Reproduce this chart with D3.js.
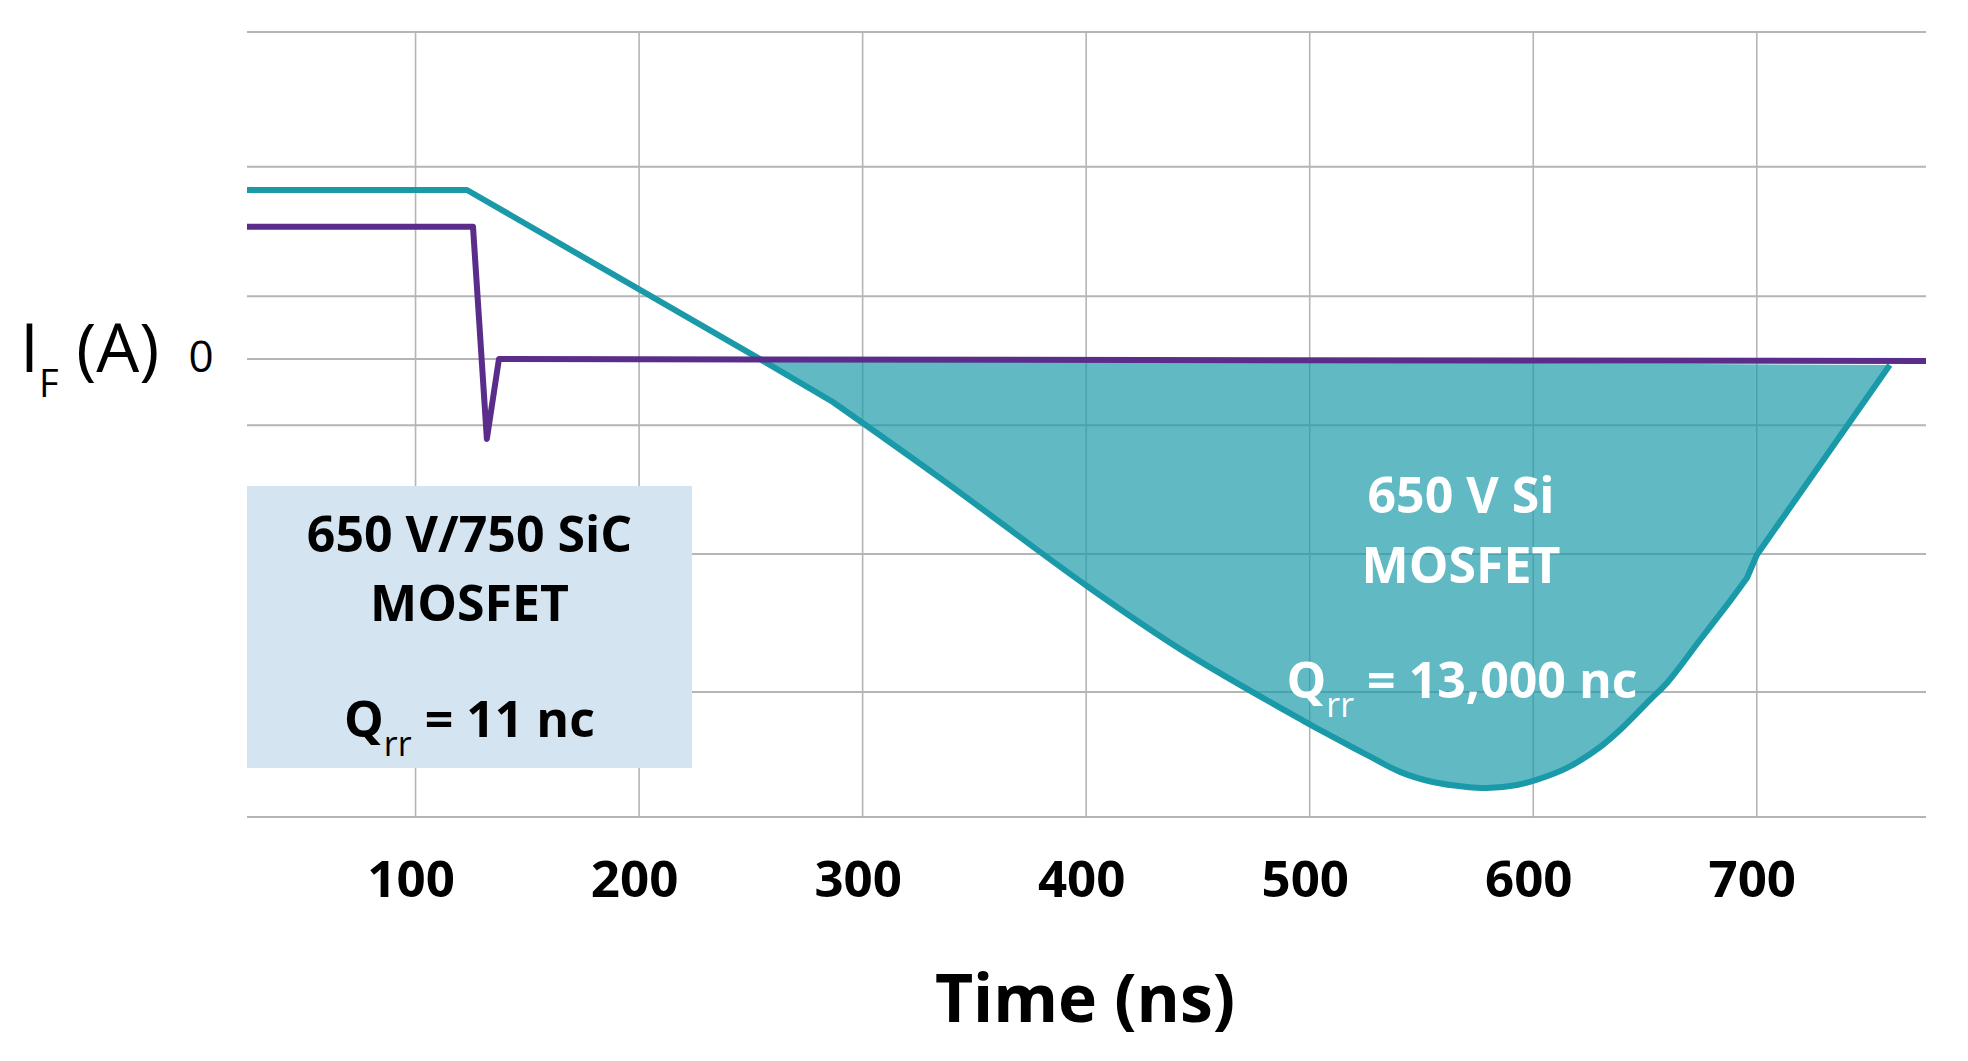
<!DOCTYPE html>
<html>
<head>
<meta charset="utf-8">
<script src="https://cdn.jsdelivr.net/npm/d3@7"></script>
<style>
  html, body { margin: 0; padding: 0; background: #ffffff; }
  svg { display: block; }
  text { font-family: "Open Sans", "Noto Sans", sans-serif; }
</style>
</head>
<body>
<svg id="chart" width="1968" height="1061"></svg>
<script>
// ---- data ----
const xTicks = [100, 200, 300, 400, 500, 600, 700];
const xDomain = [24.6, 775.7];
const yDomain = [-7, 5];
const yGrid = [5, 2.94, 0.96, 0, -1.01, -2.98, -5.09, -7];
const yTickLabels = ["0"];

// Si MOSFET (teal) current, time in ns, current in arbitrary units
const siT = [24.6, 123.0, 254.1, 286.7, 335.9, 400.8, 444.2, 497.2, 510.4, 525.6, 540.4, 555.1, 570.3, 579.3, 592.7, 601.7, 615.1, 629.9, 638.8, 652.2, 660.2, 674.6, 688.0, 695.6, 700.0, 759.5];
const siV = [2.585, 2.585, 0, -0.656, -1.85, -3.48, -4.48, -5.53, -5.776, -6.05, -6.31, -6.465, -6.54, -6.556, -6.51, -6.43, -6.25, -5.93, -5.67, -5.21, -4.935, -4.294, -3.70, -3.346, -2.995, -0.09];

// SiC MOSFET (purple) current
const sicT = [24.6, 125.7, 131.9, 137.3, 775.7];
const sicV = [2.024, 2.024, -1.22, 0, -0.03];

const xLabel = "Time (ns)";
const siLines = ["650 V Si", "MOSFET"];
const siQ = "13,000 nc";
const sicLines = ["650 V/750 SiC", "MOSFET"];
const sicQ = "11 nc";

// ---- scales ----
const svg = d3.select("#chart");
const x = d3.scaleLinear().domain(xDomain).range([247, 1926]);
const y = d3.scaleLinear().domain(yDomain).range([817, 32]);

const gridColor = "#b5b5b5";
const teal = "#1a9aa8";
const purple = "#5a2d8b";

// grid
const g = svg.append("g");
g.selectAll("line.h").data(yGrid).join("line")
  .attr("class", "h")
  .attr("x1", x(xDomain[0])).attr("x2", x(xDomain[1]))
  .attr("y1", d => y(d)).attr("y2", d => y(d))
  .attr("stroke", gridColor).attr("stroke-width", 2);
g.selectAll("line.v").data(xTicks).join("line")
  .attr("class", "v")
  .attr("x1", d => x(d)).attr("x2", d => x(d))
  .attr("y1", y(yDomain[1])).attr("y2", y(yDomain[0]))
  .attr("stroke", gridColor).attr("stroke-width", 1.6);

// x tick labels via axis
const xAxis = d3.axisBottom(x).tickValues(xTicks).tickSize(0).tickPadding(0);
const ax = svg.append("g").attr("transform", `translate(-5, 859)`).call(xAxis);
ax.select(".domain").remove();
ax.selectAll("text")
  .attr("dy", null).attr("y", 38)
  .attr("fill", "#000").attr("font-size", 51).attr("font-weight", 700)
  .style("font-family", "'Open Sans', sans-serif");

const siData = siT.map((t, i) => ({t, v: siV[i]}));
const sicData = sicT.map((t, i) => ({t, v: sicV[i]}));

const lin = d3.line().x(d => x(d.t)).y(d => y(d.v));
const smooth = d3.line().x(d => x(d.t)).y(d => y(d.v)).curve(d3.curveCatmullRom.alpha(0.5));

// Si path: straight segments at start, smooth bottom, straight rise at end
function siPath(data) {
  const a = lin(data.filter(d => d.t <= 286.7));
  const b = smooth(data.filter(d => d.t >= 286.7 && d.t <= 688.0)).replace(/^M[^A-Za-z]*/, "");
  const c = lin(data.filter(d => d.t >= 688.0)).replace(/^M[^LZ]*/, "");
  return a + b + c;
}

// fill: region below zero enclosed by the Si curve
const fillData = siData.filter(d => d.t >= 254.1);
svg.append("path")
  .attr("d", siPath(fillData) + "Z")
  .attr("fill", teal).attr("fill-opacity", 0.69).attr("stroke", "none");

svg.append("path")
  .attr("d", siPath(siData))
  .attr("fill", "none").attr("stroke", teal).attr("stroke-width", 6)
  .attr("stroke-linejoin", "round");

svg.append("path")
  .attr("d", lin(sicData))
  .attr("fill", "none").attr("stroke", purple).attr("stroke-width", 6)
  .attr("stroke-linejoin", "round");

// SiC box
svg.append("rect")
  .attr("x", 247).attr("y", 486).attr("width", 445).attr("height", 282)
  .attr("fill", "#d4e4f1");

function qLine(cx, baseline, value, color) {
  const t = svg.append("text")
    .attr("x", cx).attr("y", baseline)
    .attr("text-anchor", "middle")
    .attr("fill", color).attr("font-size", 50).attr("font-weight", 700);
  t.append("tspan").text("Q");
  t.append("tspan").attr("dy", 19).attr("font-size", 34).attr("font-weight", 400).text("rr");
  t.append("tspan").attr("dy", -19).text(" = " + value);
}

sicLines.forEach((s, i) => {
  svg.append("text").attr("x", 469.5).attr("y", [552, 621][i])
    .attr("text-anchor", "middle").attr("fill", "#000")
    .attr("font-size", 50).attr("font-weight", 700).text(s);
});
qLine(469.5, 737, sicQ, "#000");

siLines.forEach((s, i) => {
  svg.append("text").attr("x", 1461).attr("y", [513, 583][i])
    .attr("text-anchor", "middle").attr("fill", "#fff")
    .attr("font-size", 50).attr("font-weight", 700).text(s);
});
qLine(1462, 698, siQ, "#fff");

// y label and tick
svg.append("text").attr("x", 201).attr("y", 372).attr("text-anchor", "middle")
  .attr("font-size", 44).attr("fill", "#000").text(yTickLabels[0]);
const yl = svg.append("text").attr("x", 20).attr("y", 372)
  .attr("font-size", 68).attr("fill", "#000");
yl.append("tspan").text("I");
yl.append("tspan").attr("dy", 25).attr("font-size", 38).text("F");
yl.append("tspan").attr("dy", -25).text(" (A)");

// x title
svg.append("text").attr("x", 1085).attr("y", 1022).attr("text-anchor", "middle")
  .attr("font-size", 66).attr("font-weight", 700).attr("fill", "#000").text(xLabel);
</script>
</body>
</html>
